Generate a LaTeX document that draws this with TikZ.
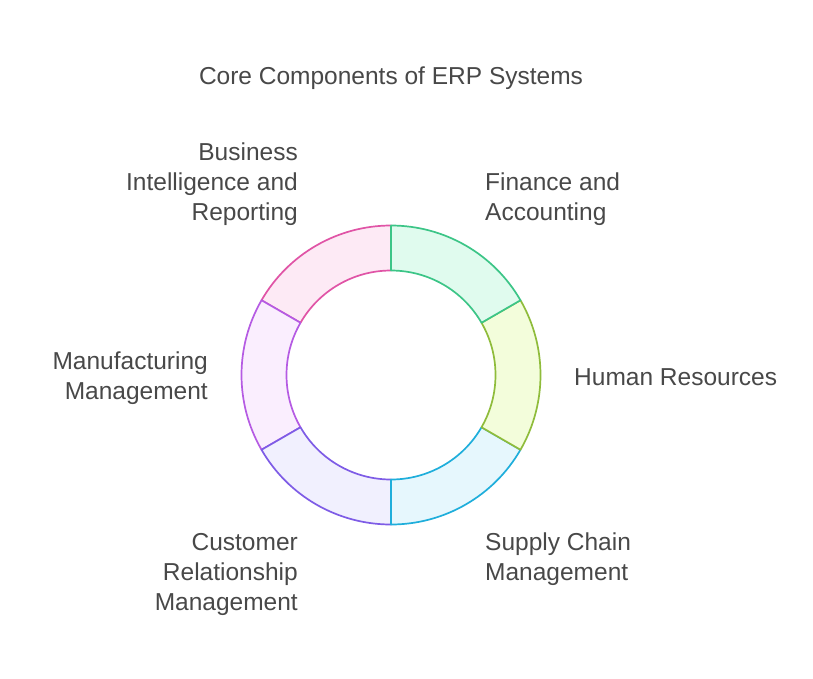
\documentclass[tikz,border=0pt]{standalone}
\usepackage{fontspec}
\setmainfont{Liberation Sans}
\definecolor{txtgray}{HTML}{484848}
\definecolor{fin line}{HTML}{3CC587}
\definecolor{fin fill}{HTML}{E0FBEE}
\definecolor{hr line}{HTML}{8FBC3B}
\definecolor{hr fill}{HTML}{F3FDDB}
\definecolor{sc line}{HTML}{1FAEDB}
\definecolor{sc fill}{HTML}{E6F7FD}
\definecolor{crm line}{HTML}{7E5CE6}
\definecolor{crm fill}{HTML}{F1F0FE}
\definecolor{mfg line}{HTML}{B55BE3}
\definecolor{mfg fill}{HTML}{FAEEFE}
\definecolor{bi line}{HTML}{E054A6}
\definecolor{bi fill}{HTML}{FDEAF5}
\tikzset{
    txt/.style={font=\fontsize{24.5}{30}\selectfont, text=txtgray, inner sep=0pt},
    seg/.style={line width=1.7pt, line join=round},
}
\begin{document}
\begin{tikzpicture}[x=1pt, y=1pt]
    \useasboundingbox (0,0) rectangle (813,-678);
    \coordinate (c) at (391,-375);
    % ring, drawn back to front
    \foreach \a/\b/\col in {-210/-270/bi, -150/-210/mfg, -90/-150/crm, -30/-90/sc, 30/-30/hr, 90/30/fin}
        \draw[seg, draw=\col\space line, fill=\col\space fill] ([shift={(\a:149.5)}]c) arc[start angle=\a, end angle=\b, radius=149.5pt] -- ([shift={(\b:104.5)}]c) arc[start angle=\b, end angle=\a, radius=104.5pt] -- cycle;
    \node[txt, anchor=base] (title) at (391,-84) {Core Components of ERP Systems};
    % labels anchored at the baseline of their last line
    \node[txt, align=left, anchor=base west] (fin) at (485,-220) {Finance and\\Accounting};
    \node[txt, anchor=base west] (hr) at (574,-385) {Human Resources};
    \node[txt, align=left, anchor=base west] (sc) at (485,-580) {Supply Chain\\Management};
    \node[txt, align=right, anchor=base east] (crm) at (298,-610) {Customer\\Relationship\\Management};
    \node[txt, align=right, anchor=base east] (mfg) at (208,-399) {Manufacturing\\Management};
    \node[txt, align=right, anchor=base east] (bi) at (298,-220) {Business\\Intelligence and\\Reporting};
\end{tikzpicture}
\end{document}
